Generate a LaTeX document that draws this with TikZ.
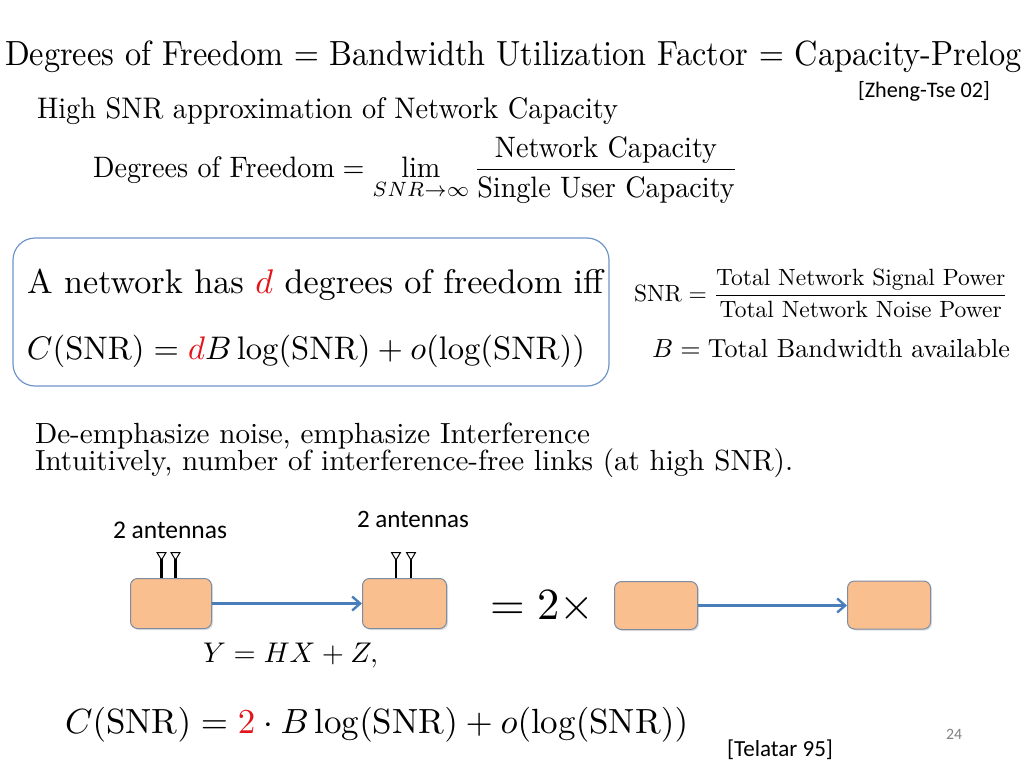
\documentclass[tikz,border=0pt]{standalone}
\usepackage{fontspec}
\usepackage{amsmath}
\usetikzlibrary{arrows.meta,shadows}
\newfontfamily\calib{Carlito}
\definecolor{accent}{HTML}{E3151B}
\definecolor{boxfill}{HTML}{F9BF8F}
\definecolor{boxline}{HTML}{7D8CA3}
\definecolor{arrowblue}{HTML}{4A7EBB}
\definecolor{frameblue}{HTML}{7096C8}
\newcommand\fitw[2]{\resizebox{#1pt}{!}{#2}}
\begin{document}
\begin{tikzpicture}[x=1pt,y=-1pt,
  txt/.style={anchor=base west,inner sep=0pt,outer sep=0pt},
  unit/.style={draw=boxline,fill=boxfill,line width=1pt,rounded corners=7pt,
     drop shadow={shadow xshift=1.5pt,shadow yshift=-1.5pt,opacity=0.25}},
  link/.style={draw=arrowblue,line width=2.8pt,-{Straight Barb[length=8pt,width=14pt,line width=2.4pt]}},
  stem/.style={line width=2.8pt,black},
  ant/.style={draw=black,fill=white,line width=1pt}]
\useasboundingbox (0,0) rectangle (1024,768);
\fill[white] (0,0) rectangle (1024,768);

\node[txt] (title) at (5,65) {\scalebox{1}[1.08]{\fitw{1017}{Degrees of Freedom $=$ Bandwidth Utilization Factor $=$ Capacity-Prelog}}};
\node[txt] (ref1) at (858,97) {\fitw{132}{\calib [Zheng-Tse 02]}};
\node[txt] (high) at (37,118) {\scalebox{1}[1.05]{\fitw{581}{High SNR approximation of Network Capacity}}};
\node[txt] (dof) at (93,177) {\scalebox{1}[1.05]{\fitw{645}{$\displaystyle \text{Degrees of Freedom} = \lim_{SNR\to\infty}\frac{\text{Network Capacity}}{\text{Single User Capacity}}$}}};

\draw[frameblue,line width=1.2pt,rounded corners=22pt] (13,238) rectangle (609,386);
\node[txt] (def) at (27,293) {\fitw{576}{A network has \textcolor{accent}{$d$} degrees of freedom iff}};
\node[txt] (cap) at (27,359) {\fitw{558}{$C(\mathrm{SNR}) = {\color{accent}d}B\log(\mathrm{SNR}) + o(\log(\mathrm{SNR}))$}};

\node[txt] (snr) at (634,301) {\fitw{374}{$\displaystyle \mathrm{SNR} = \frac{\text{Total Network Signal Power}}{\text{Total Network Noise Power}}$}};
\node[txt] (bw) at (652,357) {\fitw{358}{$B = \text{Total Bandwidth available}$}};

\node[txt] (deemph) at (35,443) {\fitw{555}{De-emphasize noise, emphasize Interference}};
\node[txt] (intuit) at (35,470) {\fitw{758}{Intuitively, number of interference-free links (at high SNR).}};

\node[txt] (antL) at (113,538) {\fitw{114}{\calib 2 antennas}};
\node[txt] (antR) at (357,527) {\fitw{112}{\calib 2 antennas}};

\node[unit,anchor=north west,minimum width=81pt,minimum height=50pt] (tx) at (130,578) {};
\node[unit,anchor=north west,minimum width=84pt,minimum height=50pt] (rx) at (362,578) {};
\node[unit,anchor=north west,minimum width=83pt,minimum height=48pt] (tx2) at (614,581) {};
\node[unit,anchor=north west,minimum width=83pt,minimum height=48pt] (rx2) at (847,580.5) {};

\foreach \ax in {161.5,175.5,396,411}{
  \draw[stem] (\ax,578) -- (\ax,559);
  \draw[ant] (\ax-4.5,552.5) -- (\ax+4.5,552.5) -- (\ax,560) -- cycle;
}

\draw[link] (tx.east) -- (rx.west);
\draw[link] (tx2.east) -- (tx2.east -| rx2.west);

\node[txt] (model) at (203,662) {\fitw{175}{$Y = HX + Z,$}};
\node[anchor=west,inner sep=0pt] (times) at (490,607) {\fitw{104}{$=2\times$}};

\node[txt] (capmimo) at (65,733) {\fitw{623}{$C(\mathrm{SNR}) = {\color{accent}2}\cdot B\log(\mathrm{SNR}) + o(\log(\mathrm{SNR}))$}};
\node[txt] (ref2) at (727,756) {\fitw{106}{\calib [Telatar 95]}};
\node[txt,text=gray] (page) at (946,739) {\fitw{16}{\calib 24}};
\end{tikzpicture}
\end{document}
